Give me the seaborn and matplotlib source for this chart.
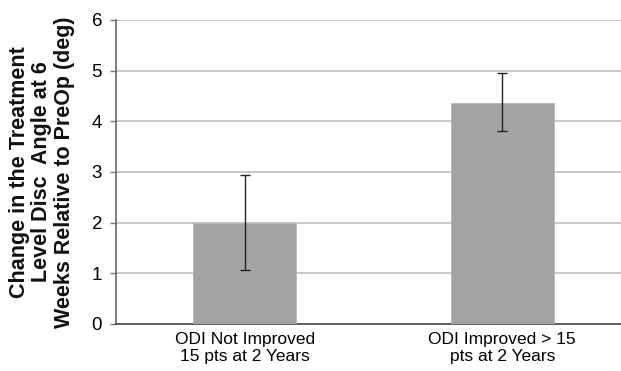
import matplotlib
matplotlib.use("Agg")
import matplotlib.pyplot as plt
import seaborn as sns
import pandas as pd

categories = ["ODI Not Improved\n15 pts at 2 Years", "ODI Improved > 15\npts at 2 Years"]
means = [2.0, 4.37]
err_low = [0.93, 0.57]
err_high = [0.94, 0.58]
yticks = [0, 1, 2, 3, 4, 5, 6]

sns.set_style("white")
plt.rcParams['font.family'] = ['Liberation Sans', 'DejaVu Sans']
plt.rcParams['text.color'] = 'black'
plt.rcParams['axes.labelcolor'] = 'black'
plt.rcParams['xtick.labelcolor'] = 'black'
plt.rcParams['ytick.labelcolor'] = 'black'

fig = plt.figure(figsize=(6.21, 3.71), dpi=100)
ax = fig.add_axes([116/621, 47/371, 515/621, 304/371])

df = pd.DataFrame({"cat": categories, "val": means})
sns.barplot(data=df, x="cat", y="val", color="#a3a3a3", saturation=1, width=0.4, ax=ax, zorder=3)
for p in ax.patches:
    p.set_edgecolor("#b5b5b5")
    p.set_linewidth(0.6)
ax.errorbar(range(len(means)), means, yerr=[err_low, err_high], fmt="none",
            ecolor="#222222", elinewidth=1.0, capsize=3.5, capthick=1.0, zorder=4)

ax.set_xlim(-0.5, 1.5)
ax.set_ylim(0, 6)
ax.set_yticks(yticks)
ax.set_yticklabels([str(t) for t in yticks], fontsize=13.5, color="black")
ax.yaxis.grid(True, color="#bdbdbd", linewidth=1.2, zorder=0)
ax.set_axisbelow(True)

ax.set_xlabel("")
ax.set_ylabel("Change in the Treatment\nLevel Disc  Angle at 6\nWeeks Relative to PreOp (deg)",
              fontsize=15.5, fontweight="bold", linespacing=1.1, labelpad=12, color="#111111")
ax.tick_params(axis="x", which="major", length=0, labelsize=12.5, pad=6, labelcolor="black")
ax.set_xticks([0.5], minor=True)
ax.tick_params(axis="x", which="minor", length=5, width=1, color="#555555", direction="out")
ax.tick_params(axis="y", length=4, width=1, color="#777777", direction="out", left=True, pad=6, labelcolor="black")
for lbl in ax.get_xticklabels():
    lbl.set_linespacing(1.15)

for s in ["top", "right"]:
    ax.spines[s].set_visible(False)
ax.spines["left"].set_color("#666666")
ax.spines["bottom"].set_color("#444444")
ax.spines["left"].set_linewidth(1.2)
ax.spines["bottom"].set_linewidth(1.2)

fig.savefig("out.png", dpi=100)
